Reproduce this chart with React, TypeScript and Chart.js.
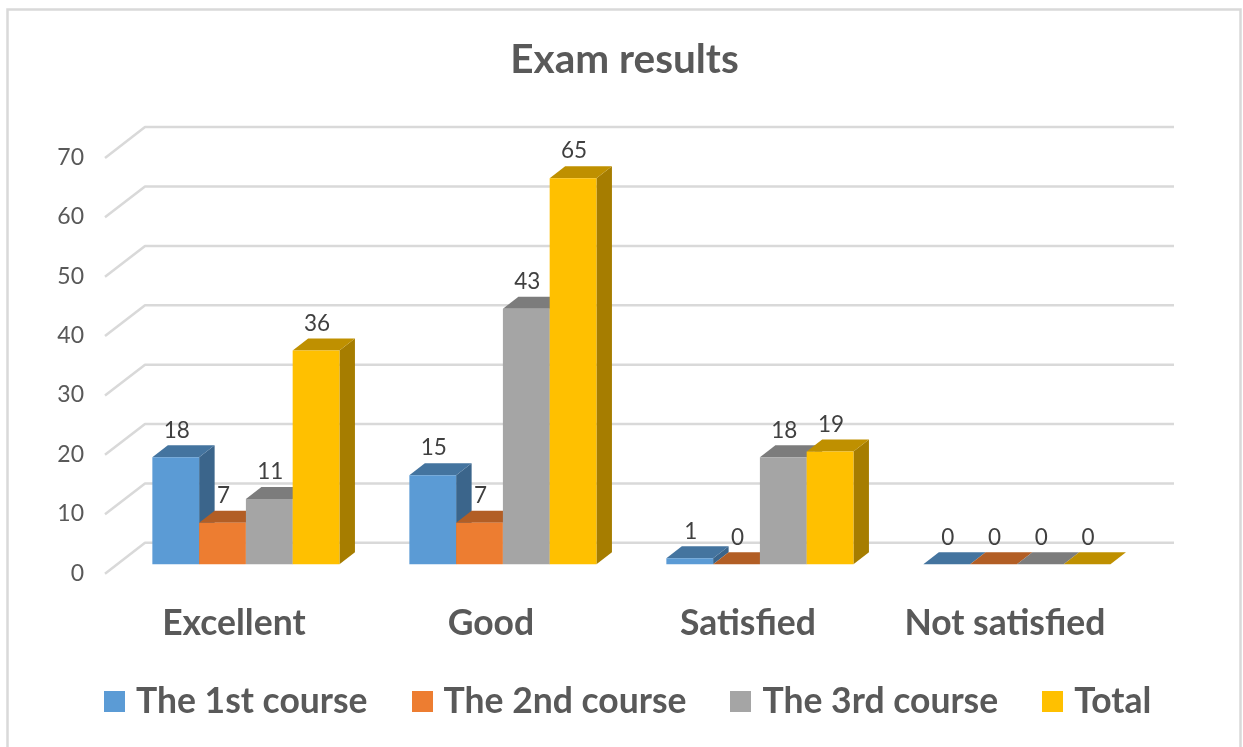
import React, { useEffect, useRef } from "react";
import { Chart, registerables } from "chart.js";

Chart.register(...registerables);

const categories = ["Excellent", "Good", "Satisfied", "Not satisfied"];
const seriesNames = ["The 1st course", "The 2nd course", "The 3rd course", "Total"];
const course1 = [18, 15, 1, 0];
const course2 = [7, 7, 0, 0];
const course3 = [11, 43, 18, 0];
const total = [36, 65, 19, 0];
const yTicks = [0, 10, 20, 30, 40, 50, 60, 70];

const frontColors = ["#5B9BD5", "#ED7D31", "#A5A5A5", "#FFC000"];
const topColors = ["#44749F", "#B25E25", "#7C7C7C", "#BF9000"];
const sideColors = ["#3B658B", "#9A5120", "#6B6B6B", "#A67D00"];

const FONT = "Lato";
const GRID = "#D9D9D9";
const DEPTH_X = 15.5;
const DEPTH_Y = 12;

function swatch(color: string) {
  const c = document.createElement("canvas");
  c.width = 21;
  c.height = 21;
  const x = c.getContext("2d")!;
  x.fillStyle = color;
  x.fillRect(0, 0, 21, 21);
  return c;
}

function poly(ctx: CanvasRenderingContext2D, color: string, pts: number[][]) {
  ctx.fillStyle = color;
  ctx.beginPath();
  pts.forEach((p, i) => (i ? ctx.lineTo(p[0], p[1]) : ctx.moveTo(p[0], p[1])));
  ctx.closePath();
  ctx.fill();
}

const backdrop = {
  id: "backdrop",
  afterLayout(chart: any) {
    chart.legend.left += 6.5;
    chart.legend.right += 6.5;
    chart.legend.top -= 3;
    chart.legend.bottom -= 3;
  },
  beforeDraw(chart: any) {
    const { ctx, width, height } = chart;
    ctx.save();
    ctx.fillStyle = "#FFFFFF";
    ctx.fillRect(0, 0, width, height);
    ctx.strokeStyle = GRID;
    ctx.lineWidth = 2.5;
    ctx.beginPath();
    ctx.moveTo(7.5, height);
    ctx.lineTo(7.5, 9.5);
    ctx.lineTo(1240.5, 9.5);
    ctx.lineTo(1240.5, height);
    ctx.stroke();
    ctx.restore();
  },
};

const wall = {
  id: "wall",
  beforeDatasetsDraw(chart: any) {
    const { ctx, chartArea, scales } = chart;
    ctx.save();
    ctx.strokeStyle = GRID;
    ctx.lineWidth = 2.5;
    ctx.lineJoin = "round";
    scales.y.ticks.forEach((t: any) => {
      const y = scales.y.getPixelForValue(t.value);
      ctx.beginPath();
      ctx.moveTo(chartArea.left - 12.4, y + 9.4);
      ctx.lineTo(chartArea.left + 27.6, y - 21.4);
      ctx.lineTo(chartArea.right + 28.6, y - 21.4);
      ctx.stroke();
    });
    ctx.restore();
  },
};

const bars3d = {
  id: "bars3d",
  beforeDatasetDraw() {
    return false;
  },
  afterDatasetsDraw(chart: any) {
    const { ctx } = chart;
    ctx.save();
    chart.data.datasets.forEach((ds: any, d: number) => {
      chart.getDatasetMeta(d).data.forEach((bar: any) => {
        const p = bar.getProps(["x", "y", "base", "width"], true);
        const l = p.x - p.width / 2;
        const r = p.x + p.width / 2;
        if (p.base - p.y > 0.5) {
          poly(ctx, sideColors[d], [
            [r, p.y],
            [r + DEPTH_X, p.y - DEPTH_Y],
            [r + DEPTH_X, p.base - DEPTH_Y],
            [r, p.base],
          ]);
        }
        poly(ctx, topColors[d], [
          [l, p.y],
          [l + DEPTH_X, p.y - DEPTH_Y],
          [r + DEPTH_X, p.y - DEPTH_Y],
          [r, p.y],
        ]);
        bar.draw(ctx);
      });
    });
    ctx.font = `22.5px ${FONT}`;
    ctx.fillStyle = "#404040";
    ctx.textAlign = "center";
    ctx.textBaseline = "middle";
    chart.data.datasets.forEach((ds: any, d: number) => {
      chart.getDatasetMeta(d).data.forEach((bar: any, i: number) => {
        const p = bar.getProps(["x", "y"], true);
        ctx.fillText(String(ds.data[i]), p.x + 1, p.y - 27);
      });
    });
    ctx.restore();
  },
};

export default function App() {
  const ref = useRef<HTMLCanvasElement>(null);
  useEffect(() => {
    const series = [course1, course2, course3, total];
    const swatches = frontColors.map(swatch);
    const chart = new Chart(ref.current!, {
      type: "bar",
      data: {
        labels: categories,
        datasets: series.map((data, i) => ({
          label: seriesNames[i],
          data,
          backgroundColor: frontColors[i],
          borderWidth: 0,
          categoryPercentage: 0.728,
          barPercentage: 1,
        })),
      },
      plugins: [backdrop, wall, bars3d],
      options: {
        responsive: false,
        animation: false,
        layout: { padding: { left: 6, right: 0, top: 0, bottom: 14.5 } },
        plugins: {
          tooltip: { enabled: false },
          title: {
            display: true,
            text: "Exam results",
            color: "#595959",
            font: { family: FONT, size: 40.5, weight: "bold" },
            padding: { top: 35.7, bottom: 64.2 },
          },
          legend: {
            position: "bottom",
            labels: {
              usePointStyle: true,
              pointStyleWidth: 7.5,
              padding: 50.75,
              color: "#595959",
              font: { family: FONT, size: 35.5, weight: "bold" },
              generateLabels(c: any) {
                return Chart.defaults.plugins.legend.labels
                  .generateLabels(c)
                  .map((it: any, i: number) => ({ ...it, pointStyle: swatches[i] }));
              },
            },
          },
        },
        scales: {
          x: {
            grid: { display: false, drawTicks: false },
            border: { display: false },
            ticks: {
              color: "#595959",
              font: { family: FONT, size: 35.5, weight: "bold" },
              padding: 38,
              labelOffset: -12,
              maxRotation: 0,
            },
            afterFit(s: any) {
              s.height = 72;
            },
          },
          y: {
            min: yTicks[0],
            max: yTicks[yTicks.length - 1],
            grid: { display: false, drawTicks: false },
            border: { display: false },
            ticks: {
              stepSize: yTicks[1] - yTicks[0],
              color: "#595959",
              font: { family: FONT, size: 23 },
              padding: 33.4,
              labelOffset: 9,
            },
            afterFit(s: any) {
              s.width = 111.4;
            },
          },
          y2: {
            position: "right",
            grid: { display: false, drawTicks: false },
            border: { display: false },
            ticks: { display: false },
            afterFit(s: any) {
              s.width = 97.6;
            },
          },
        },
      },
    } as any);
    return () => chart.destroy();
  }, []);
  return (
    <div style={{ position: "fixed", left: 0, top: 0, width: 1243, height: 747 }}>
      <canvas ref={ref} width={1243} height={747} style={{ display: "block" }} />
    </div>
  );
}
